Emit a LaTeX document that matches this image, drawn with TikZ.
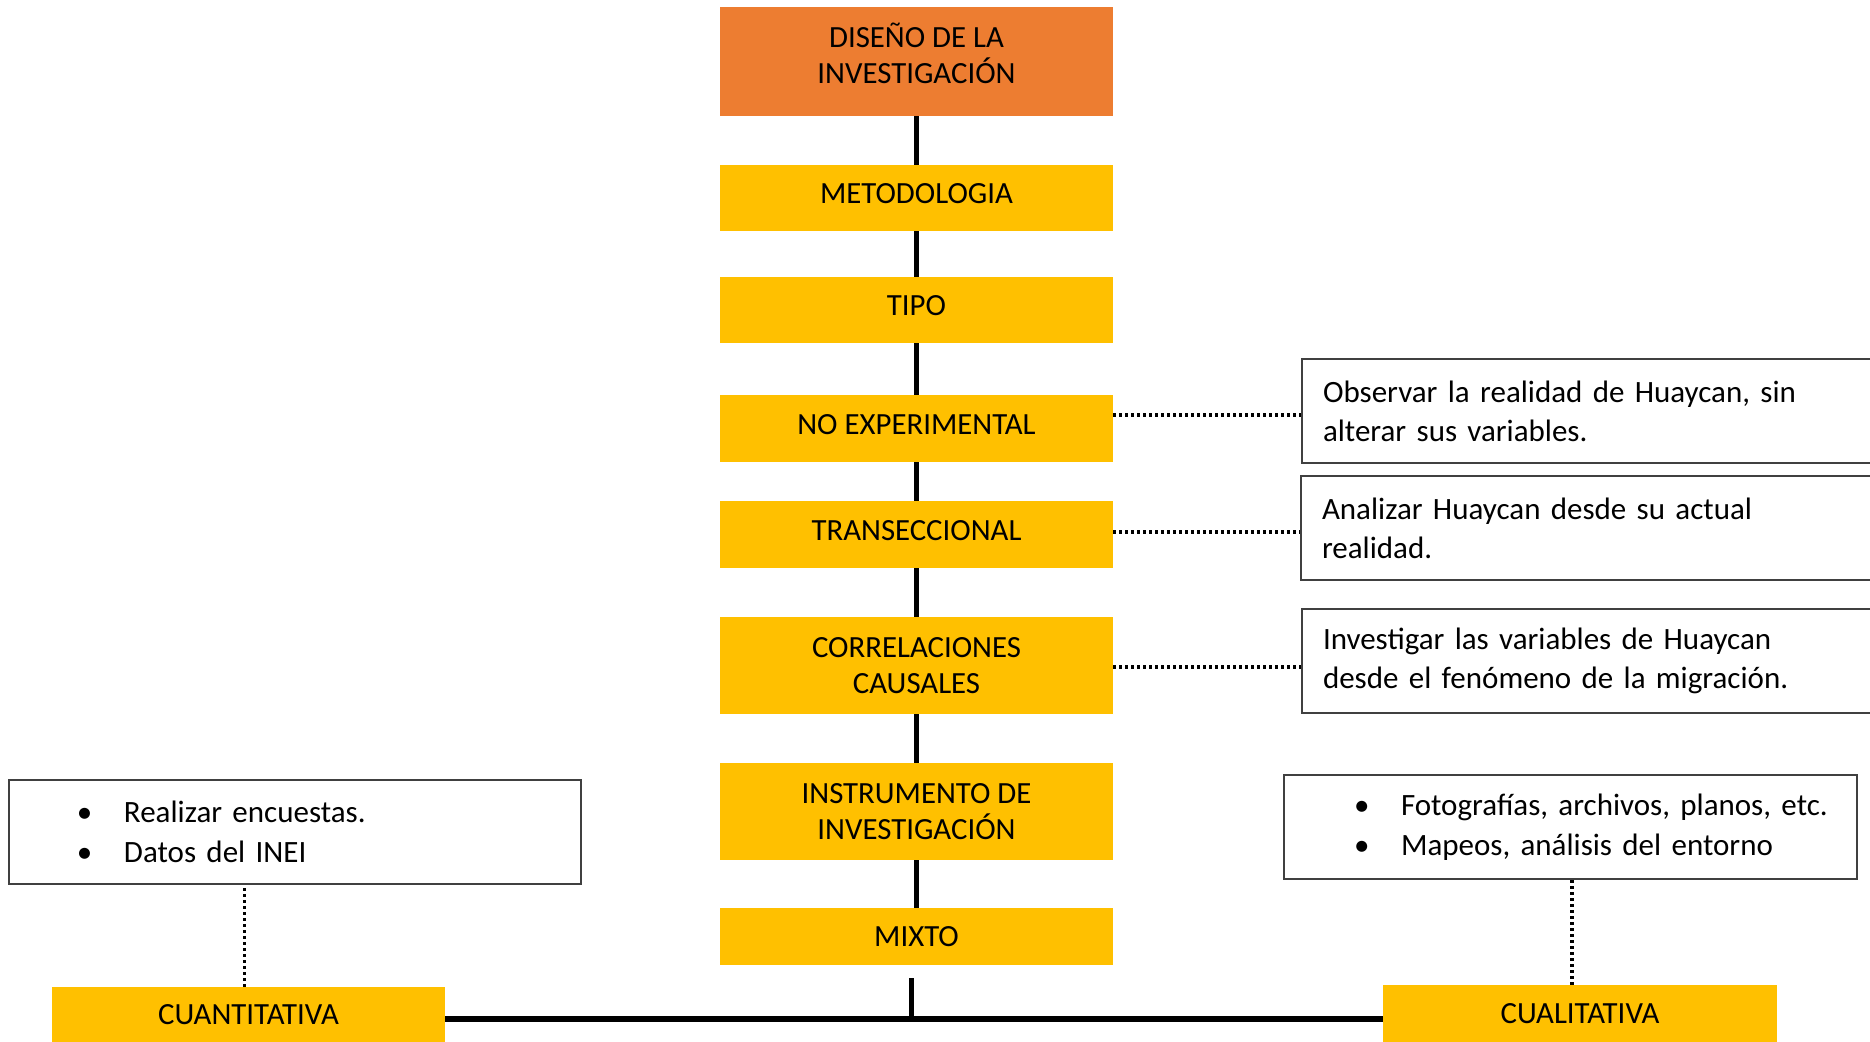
\documentclass[tikz,border=0pt]{standalone}
\usepackage{fontspec}
\setmainfont{Carlito}
\definecolor{orangebox}{HTML}{ED7D31}
\definecolor{yellowbox}{HTML}{FFC000}
\tikzset{
box/.style={fill=yellowbox, minimum width=196.5pt, minimum height=33pt,
	inner sep=0pt, align=center, font=\fontsize{15.4}{18}\selectfont},
note/.style={draw=black!75, line width=0.9pt, inner ysep=0pt,
	minimum height=52pt, align=left, font=\fontsize{15.5}{19.5}\selectfont},
mainline/.style={line width=2.5pt},
dotline/.style={line width=1.7pt, dash pattern=on 1.5pt off 1.5pt}
}
\newcommand{\itembul}[1]{\hspace*{#1}\makebox[23.5pt][l]{\textbullet}}

\begin{document}
\begin{tikzpicture}[x=0.5pt, y=-0.5pt]
	\useasboundingbox (0,0) rectangle (1870,1042);
	\node[box, fill=orangebox, minimum height=54.5pt, text depth=8pt] (diseno) at (916.5,61.5) {DISEÑO DE LA\\INVESTIGACIÓN};
	\node[box, text depth=4pt] (metodo) at (916.5,198) {METODOLOGIA};
	\node[box, text depth=4pt] (tipo) at (916.5,310) {TIPO};
	\node[box, minimum height=33.5pt, text depth=4pt] (noexp) at (916.5,428.5) {NO EXPERIMENTAL};
	\node[box, minimum height=33.5pt, text depth=4pt] (trans) at (916.5,534.5) {TRANSECCIONAL};
	\node[box, minimum height=48.5pt] (correl) at (916.5,665.5) {CORRELACIONES\\CAUSALES};
	\node[box, minimum height=48.5pt] (instr) at (916.5,811.5) {INSTRUMENTO DE\\INVESTIGACIÓN};
	\node[box, minimum height=28.5pt] (mixto) at (916.5,936.5) {MIXTO};
	\node[box, minimum height=27.5pt] (cuant) at (248.5,1014.5) {CUANTITATIVA};
	\node[box, minimum width=197pt, minimum height=28.5pt] (cual) at (1580,1013.5) {CUALITATIVA};

	\node[note, inner xsep=10.5pt, text width=269pt] (obs) at (1592,411)
		{Observar la realidad de Huaycan, sin\\alterar sus variables.};
	\node[note, inner xsep=10.5pt, text width=269pt] (anal) at (1591,528)
		{Analizar Huaycan desde su actual\\realidad.};
	\node[note, inner xsep=10.5pt, text width=269pt] (inves) at (1592,661)
		{Investigar las variables de Huaycan\\desde el fenómeno de la migración.};
	\node[note, inner xsep=6pt, text width=274pt, font=\fontsize{15.5}{20}\selectfont] (lbul) at (295,832)
		{\itembul{28pt}Realizar encuestas.\\\itembul{28pt}Datos del INEI};
	\node[note, inner xsep=6pt, text width=274.5pt, font=\fontsize{15.5}{20}\selectfont] (rbul) at (1570.5,827)
		{\itembul{29pt}Fotografías, archivos, planos, etc.\\\itembul{29pt}Mapeos, análisis del entorno};

	\coordinate (stem) at (911,978);
	\coordinate (split) at (911,1019);
	\draw[mainline] (diseno) -- (metodo) -- (tipo) -- (noexp) -- (trans) -- (correl) -- (instr) -- (mixto);
	\draw[mainline] (stem) -- (split);
	\draw[mainline, line width=3pt] (split -| cuant.east) -- (split -| cual.west);

	\draw[dotline] ([yshift=-2pt]noexp.east |- obs.west) -- ([yshift=-2pt]obs.west);
	\draw[dotline] ([yshift=-2pt]trans.east |- anal.west) -- ([yshift=-2pt]anal.west);
	\draw[dotline] ([yshift=-3pt]correl.east |- inves.west) -- ([yshift=-3pt]inves.west);
	\draw[dotline] ([xshift=-2pt]cuant.north) -- ([xshift=-2pt]cuant.north |- lbul.south);
	\draw[dotline] ([xshift=-4pt]cual.north) -- ([xshift=-4pt]cual.north |- rbul.south);
\end{tikzpicture}
\end{document}
